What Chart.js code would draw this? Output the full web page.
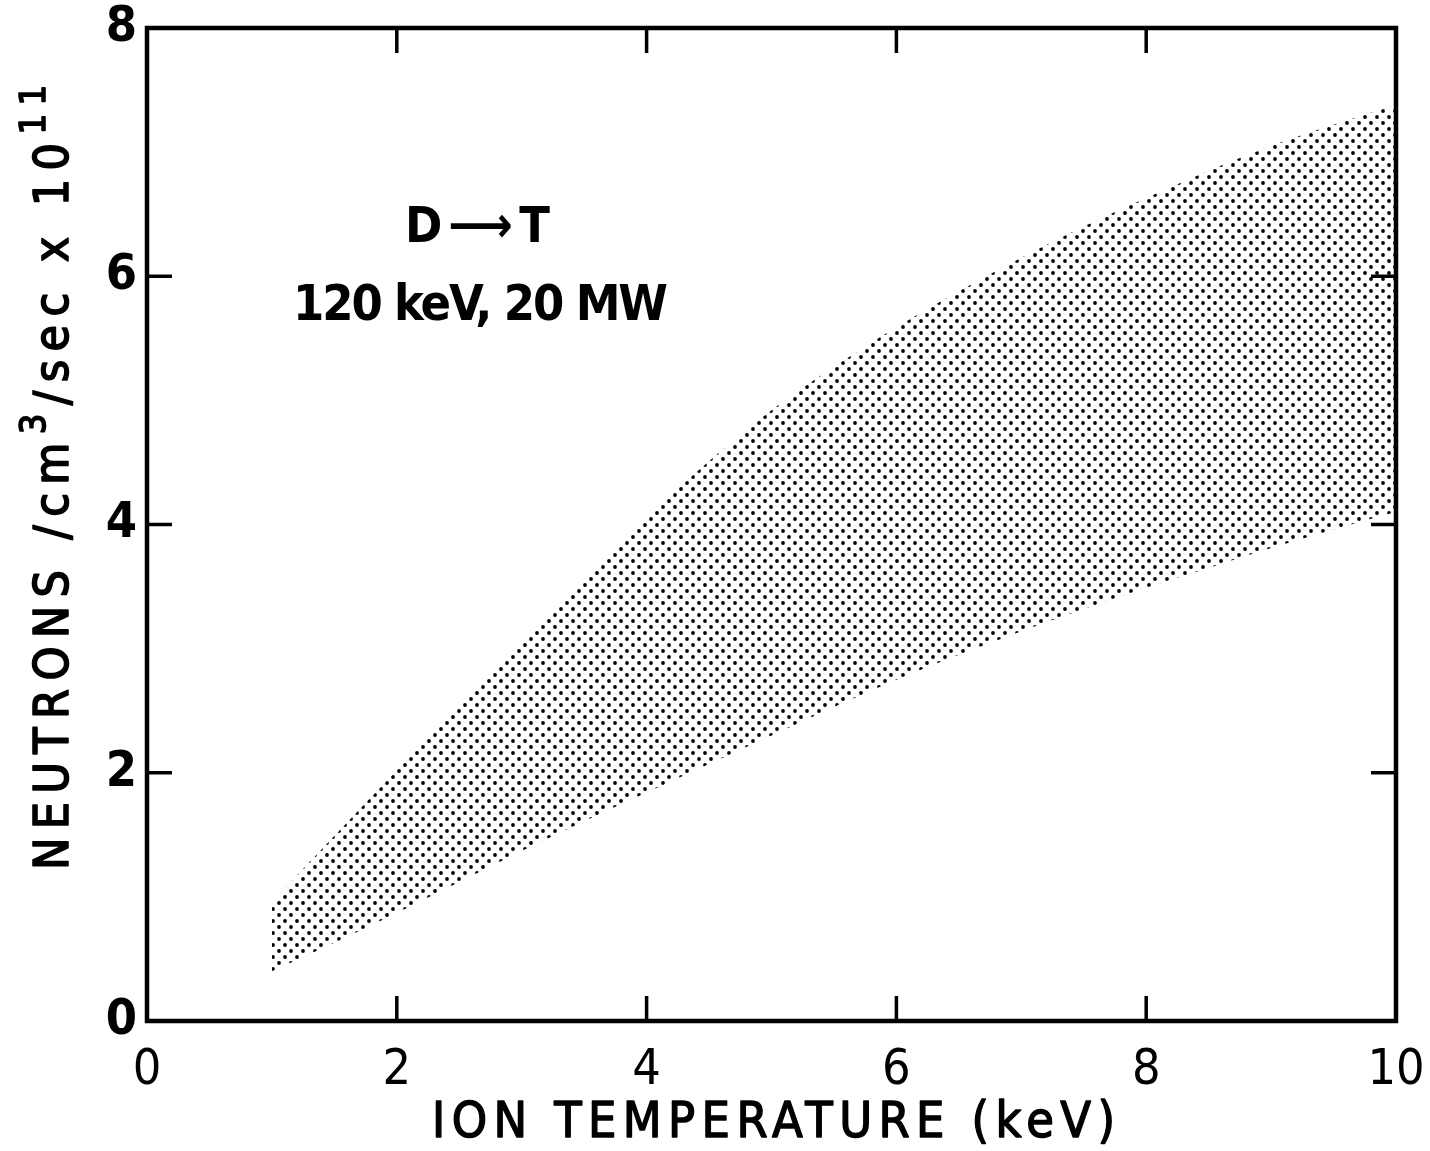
<!DOCTYPE html>
<html>
<head>
<meta charset="utf-8">
<script src="https://cdn.jsdelivr.net/npm/chart.js@4.4.1/dist/chart.umd.min.js"></script>
<style>
  html, body { margin: 0; padding: 0; background: #fff; }
  #wrap { width: 1430px; height: 1151px; }
</style>
</head>
<body>
<div id="wrap"><canvas id="chart" width="1430" height="1151"></canvas></div>
<script>
// D -> T neutron rate band, 120 keV, 20 MW beams
const temps     = [1, 1.5, 2, 2.5, 3, 3.5, 4, 4.5, 5, 5.5, 6, 6.5, 7, 7.5, 8, 8.5, 9, 9.5, 10];
const upperRate = [0.96, 1.49, 2.02, 2.54, 3.06, 3.57, 4.06, 4.51, 4.92, 5.27, 5.59, 5.88, 6.15, 6.40, 6.63, 6.85, 7.05, 7.22, 7.38];
const lowerRate = [0.40, 0.63, 0.87, 1.12, 1.37, 1.61, 1.84, 2.07, 2.30, 2.53, 2.75, 2.95, 3.14, 3.32, 3.49, 3.65, 3.81, 3.96, 4.10];

const xTicks = [0, 2, 4, 6, 8, 10];
const yTicks = [0, 2, 4, 6, 8];

const xTitle = 'ION TEMPERATURE (keV)';
const yTitleRuns = [['NEUTRONS /cm', false], ['3', true], ['/sec x 10', false], ['11', true]];
const noteLines = ['D \u27F6 T', '120 keV, 20 MW'];

const FONT = "'Liberation Sans Narrow', 'DejaVu Sans Condensed', 'Roboto Condensed', 'Liberation Sans', sans-serif";

// halftone dot fill like the printed original
function makeDots() {
  const c = document.createElement('canvas');
  c.width = 12; c.height = 12;
  const g = c.getContext('2d');
  g.fillStyle = '#000';
  [[3, 3], [9, 9]].forEach(([x, y]) => {
    g.beginPath(); g.arc(x, y, 1.9, 0, Math.PI * 2); g.fill();
  });
  return document.getElementById('chart').getContext('2d').createPattern(c, 'repeat');
}

// draw runs of text spread to a given length
function drawRuns(ctx, runs, x0, base, width, size, weight, supSize, supRaise, thick) {
  let natural = 0, n = 0;
  runs.forEach(([t, sup]) => {
    ctx.font = weight + ' ' + (sup ? supSize : size) + 'px ' + FONT;
    ctx.letterSpacing = '0px';
    natural += ctx.measureText(t).width;
    n += t.length;
  });
  const ls = (width - natural) / (n - 1);
  let x = x0;
  ctx.lineWidth = thick || 0.01;
  ctx.lineJoin = 'round';
  runs.forEach(([t, sup]) => {
    ctx.font = weight + ' ' + (sup ? supSize : size) + 'px ' + FONT;
    ctx.letterSpacing = ls + 'px';
    const yy = sup ? base - supRaise : base;
    ctx.fillText(t, x, yy);
    if (thick) ctx.strokeText(t, x, yy);
    x += ctx.measureText(t).width;
  });
  ctx.letterSpacing = '0px';
}

const framePlugin = {
  id: 'frame',
  afterDraw(chart) {
    const { ctx, chartArea: a, scales: { x, y } } = chart;
    ctx.save();
    ctx.strokeStyle = '#000';
    ctx.lineWidth = 4.5;
    ctx.strokeRect(a.left, a.top, a.right - a.left, a.bottom - a.top);
    ctx.lineWidth = 3.5;
    const len = 25;
    ctx.beginPath();
    xTicks.slice(1, -1).forEach(v => {
      const px = x.getPixelForValue(v);
      ctx.moveTo(px, a.bottom); ctx.lineTo(px, a.bottom - len);
      ctx.moveTo(px, a.top); ctx.lineTo(px, a.top + len);
    });
    yTicks.slice(1, -1).forEach(v => {
      const py = y.getPixelForValue(v);
      ctx.moveTo(a.left, py); ctx.lineTo(a.left + len, py);
      ctx.moveTo(a.right, py); ctx.lineTo(a.right - len, py);
    });
    ctx.stroke();

    ctx.fillStyle = '#000';
    ctx.textAlign = 'left';
    ctx.textBaseline = 'alphabetic';

    // x title
    drawRuns(ctx, [[xTitle, false]], 432, 1137, 683, 50, 'normal', 30, 0, 1.4);

    // y title, rotated
    ctx.save();
    ctx.translate(68, 870);
    ctx.rotate(-Math.PI / 2);
    drawRuns(ctx, yTitleRuns, 0, 0, 785, 48, 'normal', 36, 23, 1.6);
    ctx.restore();

    // note
    drawRuns(ctx, [[noteLines[0], false]], 405, 242, 145, 50, 'bold', 30, 0);
    drawRuns(ctx, [[noteLines[1], false]], 293, 320, 375, 50, 'bold', 30, 0);
    ctx.restore();
  }
};

const dots = makeDots();

new Chart(document.getElementById('chart'), {
  type: 'line',
  data: {
    datasets: [
      {
        label: 'lower',
        data: temps.map((t, i) => ({ x: t, y: lowerRate[i] })),
        showLine: false,
        borderColor: 'rgba(0,0,0,0)',
        pointRadius: 0,
        cubicInterpolationMode: 'monotone',
        fill: false
      },
      {
        label: 'upper',
        data: temps.map((t, i) => ({ x: t, y: upperRate[i] })),
        showLine: false,
        borderColor: 'rgba(0,0,0,0)',
        backgroundColor: dots,
        pointRadius: 0,
        cubicInterpolationMode: 'monotone',
        fill: '-1'
      }
    ]
  },
  options: {
    responsive: false,
    animation: false,
    devicePixelRatio: 1,
    layout: { padding: { left: 0, top: 28, right: 34, bottom: 0 } },
    plugins: { legend: { display: false }, tooltip: { enabled: false } },
    scales: {
      x: {
        type: 'linear', min: 0, max: 10,
        afterBuildTicks: s => { s.ticks = xTicks.map(v => ({ value: v })); },
        afterFit: s => { s.height = 130; s.paddingLeft = 0; s.paddingRight = 0; },
        grid: { display: false, drawTicks: false },
        border: { display: false },
        ticks: { color: '#000', padding: 20, maxRotation: 0, font: { family: FONT, size: 50 } }
      },
      y: {
        type: 'linear', min: 0, max: 8,
        afterBuildTicks: s => { s.ticks = yTicks.map(v => ({ value: v })); },
        afterFit: s => { s.width = 147; s.paddingTop = 0; s.paddingBottom = 0; },
        grid: { display: false, drawTicks: false },
        border: { display: false },
        ticks: { color: '#000', padding: 10, font: { family: FONT, size: 50, weight: 'bold' } }
      }
    }
  },
  plugins: [framePlugin]
});
</script>
</body>
</html>
